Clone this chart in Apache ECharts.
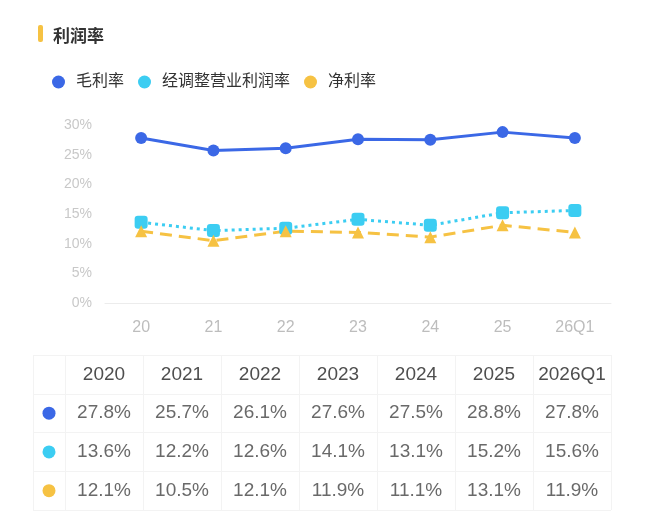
<!DOCTYPE html>
<html>
<head>
<meta charset="utf-8">
<script src="https://cdn.jsdelivr.net/npm/echarts@6/dist/echarts.min.js"></script>
<style>
  html, body { margin: 0; padding: 0; background: #fff; }
  #chart { width: 650px; height: 522px; }
</style>
</head>
<body>
<div id="chart"></div>
<script>
// 利润率 折线 + 底部数据表

const axisLabels = ['20', '21', '22', '23', '24', '25', '26Q1']
const years = ['2020', '2021', '2022', '2023', '2024', '2025', '2026Q1']
const seriesNames = ['毛利率', '经调整营业利润率', '净利率']
const grossMargin = [27.8, 25.7, 26.1, 27.6, 27.5, 28.8, 27.8]
const adjOpMargin = [13.6, 12.2, 12.6, 14.1, 13.1, 15.2, 15.6]
const netMargin = [12.1, 10.5, 12.1, 11.9, 11.1, 13.1, 11.9]
const yTicks = [0, 5, 10, 15, 20, 25, 30]

const colors = ['#3b68e6', '#3ccdf2', '#f6c243']
const font = "'Liberation Sans', 'Noto Sans CJK SC', sans-serif"
const allValues = [grossMargin, adjOpMargin, netMargin]

const chart = echarts.init(document.getElementById('chart'))

// 表格：表头行 + 三行数值
const headerCells = years.map((y, i) => ({ value: [i, 0], label: { formatter: y, color: '#222' } }))
const valueCells = []
allValues.forEach((arr, r) => {
  arr.forEach((v, i) => {
    valueCells.push({ value: [i, r + 1], label: { formatter: v.toFixed(1) + '%' } })
  })
})
const dotCells = colors.map((c, r) => ({ value: [0, r + 1], itemStyle: { color: c, opacity: 1 } }))

const rowCats = ['head'].concat(seriesNames)
const borderColor = '#f3f3f3'

const option = {
  animation: false,
  textStyle: { fontFamily: font },
  title: {
    text: '利润率',
    left: 48,
    top: 24,
    textStyle: { fontSize: 17, fontWeight: 'bold', color: '#333', fontFamily: font }
  },
  graphic: [
    { type: 'rect', left: 38, top: 25, shape: { width: 5, height: 17, r: 2 }, style: { fill: '#f6c243' } }
  ],
  legend: {
    data: seriesNames,
    left: 47,
    top: 69,
    icon: 'circle',
    itemWidth: 13,
    itemHeight: 13,
    itemGap: 14,
    textStyle: { fontSize: 16, color: '#333', fontFamily: font, padding: [0, 0, 0, 6] }
  },
  grid: [
    { left: 105, right: 39, top: 125, height: 178 },
    { left: 33, width: 32, top: 355, height: 155 },
    { left: 65, width: 546, top: 355, height: 155 }
  ],
  xAxis: [
    {
      gridIndex: 0,
      type: 'category',
      data: axisLabels,
      axisLine: { lineStyle: { color: '#ececec', width: 1 } },
      axisTick: { show: false },
      axisLabel: { color: '#bdbdbd', fontSize: 16, margin: 17, fontFamily: font }
    },
    {
      gridIndex: 1,
      type: 'category',
      data: [''],
      axisLine: { show: false },
      axisTick: { show: false },
      axisLabel: { show: false },
      splitLine: { show: true, lineStyle: { color: borderColor } }
    },
    {
      gridIndex: 2,
      type: 'category',
      data: years,
      axisLine: { show: false },
      axisTick: { show: false },
      axisLabel: { show: false },
      splitLine: { show: true, lineStyle: { color: borderColor } }
    }
  ],
  yAxis: [
    {
      gridIndex: 0,
      type: 'value',
      min: yTicks[0],
      max: yTicks[yTicks.length - 1],
      interval: 5,
      axisLine: { show: false },
      axisTick: { show: false },
      splitLine: { show: false },
      axisLabel: { formatter: '{value}%', color: '#c8c8c8', fontSize: 14, margin: 13, fontFamily: font }
    },
    {
      gridIndex: 1,
      type: 'category',
      data: rowCats,
      inverse: true,
      axisLine: { show: false },
      axisTick: { show: false },
      axisLabel: { show: false },
      splitLine: { show: true, lineStyle: { color: borderColor } }
    },
    {
      gridIndex: 2,
      type: 'category',
      data: rowCats,
      inverse: true,
      axisLine: { show: false },
      axisTick: { show: false },
      axisLabel: { show: false },
      splitLine: { show: true, lineStyle: { color: borderColor } }
    }
  ],
  series: [
    {
      name: seriesNames[0],
      type: 'line',
      data: grossMargin,
      color: colors[0],
      symbol: 'circle',
      symbolSize: 12,
      lineStyle: { width: 3 }
    },
    {
      name: seriesNames[1],
      type: 'line',
      data: adjOpMargin,
      color: colors[1],
      symbol: 'roundRect',
      symbolSize: 13,
      lineStyle: { width: 3, type: [3, 4] }
    },
    {
      name: seriesNames[2],
      type: 'line',
      data: netMargin,
      color: colors[2],
      symbol: 'triangle',
      symbolSize: 12,
      lineStyle: { width: 3, type: [12, 7] }
    },
    {
      name: 'dots',
      type: 'scatter',
      xAxisIndex: 1,
      yAxisIndex: 1,
      symbol: 'circle',
      symbolSize: 13,
      data: dotCells
    },
    {
      name: 'cells',
      type: 'scatter',
      xAxisIndex: 2,
      yAxisIndex: 2,
      symbolSize: 0,
      label: { show: true, position: 'inside', fontSize: 19, color: '#444', fontFamily: font },
      data: headerCells.concat(valueCells)
    }
  ]
}

chart.setOption(option)
</script>
</body>
</html>
